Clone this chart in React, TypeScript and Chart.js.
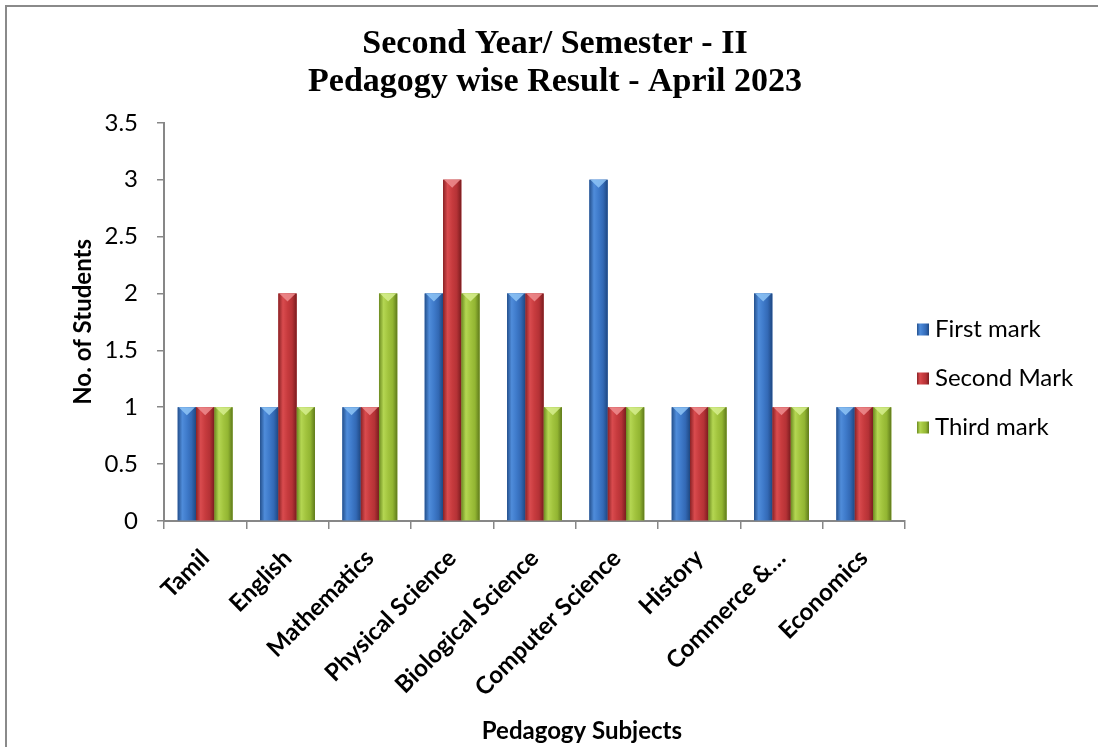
import React, { useEffect, useRef } from 'react';
import { Chart, registerables } from 'chart.js';

Chart.register(...registerables);

// ---- data ----
const categories = [
  'Tamil',
  'English',
  'Mathematics',
  'Physical Science',
  'Biological Science',
  'Computer Science',
  'History',
  'Commerce &…',
  'Economics',
];
const firstMark = [1, 1, 1, 2, 2, 3, 1, 2, 1];
const secondMark = [1, 2, 1, 3, 2, 1, 1, 1, 1];
const thirdMark = [1, 1, 2, 2, 1, 1, 1, 1, 1];
const seriesNames = ['First mark', 'Second Mark', 'Third mark'];
const yTickValues = [0, 0.5, 1, 1.5, 2, 2.5, 3, 3.5];
const titleLines = ['Second Year/ Semester - II', 'Pedagogy wise Result - April 2023'];
const xAxisTitle = 'Pedagogy Subjects';
const yAxisTitle = 'No. of Students';

// ---- styles ----
const palettes = [
  { base: '#3a72c0', stops: ['#24508c', '#4f8cda', '#3f7bcb', '#3369b5', '#1f4882'], top: '#8ec4f6' },
  { base: '#c0393c', stops: ['#8a2225', '#d94b4e', '#c73b3e', '#b53236', '#7a1c1f'], top: '#ee8d8f' },
  { base: '#9bbb3a', stops: ['#6b8a20', '#b4d652', '#a2c43e', '#92b532', '#5f7a1b'], top: '#d6ee8e' },
];
const axisColor = '#878787';
const sansFont = 'Lato';
const serifFont = 'Liberation Serif';

const framePlugin = {
  id: 'frame',
  beforeDraw(chart: any) {
    const { ctx, width, height } = chart;
    ctx.save();
    ctx.fillStyle = '#ffffff';
    ctx.fillRect(0, 0, width, height);
    ctx.strokeStyle = '#8a8a8a';
    ctx.lineWidth = 2;
    ctx.strokeRect(6, 6, width + 20, height + 20);
    ctx.restore();
  },
};

function gradientFor(ctx: CanvasRenderingContext2D, l: number, r: number, stops: string[]) {
  const g = ctx.createLinearGradient(l, 0, r, 0);
  stops.forEach((c, i) => g.addColorStop(i / (stops.length - 1), c));
  return g;
}

const barStylePlugin = {
  id: 'barStyle',
  afterDatasetsDraw(chart: any) {
    const ctx = chart.ctx as CanvasRenderingContext2D;
    chart.data.datasets.forEach((_ds: any, di: number) => {
      const meta = chart.getDatasetMeta(di);
      const pal = palettes[di];
      meta.data.forEach((el: any) => {
        const { x, y, base, width } = el.getProps(['x', 'y', 'base', 'width'], true);
        const l = x - width / 2;
        const r = x + width / 2;
        const h = base - y;
        if (h <= 0) return;
        ctx.save();
        ctx.fillStyle = gradientFor(ctx, l, r, pal.stops);
        ctx.fillRect(l, y, width, h);
        const bh = Math.min(8, h / 2);
        ctx.fillStyle = pal.top;
        ctx.globalAlpha = 0.85;
        ctx.beginPath();
        ctx.moveTo(l + 1, y);
        ctx.lineTo(r - 1, y);
        ctx.lineTo(x, y + bh);
        ctx.closePath();
        ctx.fill();
        ctx.restore();
      });
    });
  },
};

const legendPlugin = {
  id: 'sideLegend',
  afterDraw(chart: any) {
    const ctx = chart.ctx as CanvasRenderingContext2D;
    const x0 = chart.chartArea.right + 12;
    const cy0 = chart.height / 2 + 5;
    const gap = 49;
    const n = chart.data.datasets.length;
    ctx.save();
    ctx.font = `24px ${sansFont}`;
    ctx.textBaseline = 'middle';
    ctx.textAlign = 'left';
    chart.data.datasets.forEach((ds: any, i: number) => {
      const cy = cy0 + (i - (n - 1) / 2) * gap;
      const pal = palettes[i];
      ctx.fillStyle = gradientFor(ctx, x0, x0 + 12, pal.stops);
      ctx.fillRect(x0, cy - 6, 12, 12);
      ctx.fillStyle = '#000000';
      ctx.fillText(ds.label, x0 + 18, cy);
    });
    ctx.restore();
  },
};

const xTitlePlugin = {
  id: 'xTitle',
  afterDraw(chart: any) {
    const ctx = chart.ctx as CanvasRenderingContext2D;
    ctx.save();
    ctx.font = `bold 24px ${sansFont}`;
    ctx.fillStyle = '#000000';
    ctx.textAlign = 'center';
    ctx.textBaseline = 'middle';
    ctx.fillText(xAxisTitle, chart.width * 0.53, chart.height - 16);
    ctx.restore();
  },
};

export default function App() {
  const canvasRef = useRef<HTMLCanvasElement | null>(null);

  useEffect(() => {
    if (!canvasRef.current) return;
    const series = [firstMark, secondMark, thirdMark];
    const chart = new Chart(canvasRef.current, {
      type: 'bar',
      data: {
        labels: categories,
        datasets: series.map((values, i) => ({
          label: seriesNames[i],
          data: values,
          backgroundColor: palettes[i].base,
          borderWidth: 0,
          categoryPercentage: 0.667,
          barPercentage: 1,
        })),
      },
      plugins: [framePlugin, barStylePlugin, legendPlugin, xTitlePlugin],
      options: {
        responsive: false,
        maintainAspectRatio: false,
        animation: false,
        layout: { padding: { left: 12, right: 0, top: 0, bottom: 0 } },
        plugins: {
          legend: { display: false },
          tooltip: { enabled: false },
          title: {
            display: true,
            text: titleLines,
            color: '#000000',
            font: { family: serifFont, size: 34, weight: 'bold', lineHeight: 1.1 },
            padding: { top: 26, bottom: 22 },
          },
        },
        scales: {
          x: {
            afterFit(scale: any) {
              scale.height = 226;
            },
            ticks: {
              autoSkip: false,
              minRotation: 45,
              maxRotation: 45,
              padding: 15,
              color: '#000000',
              font: { family: sansFont, size: 24, weight: 'bold' },
            },
            grid: {
              drawOnChartArea: false,
              drawTicks: true,
              tickLength: 8,
              offset: true,
              color: axisColor,
              lineWidth: 1.5,
            },
            border: { color: axisColor, width: 2 },
          },
          y: {
            min: 0,
            max: 3.5,
            afterFit(scale: any) {
              scale.width = 152;
            },
            afterBuildTicks(scale: any) {
              scale.ticks = yTickValues.map((v) => ({ value: v }));
            },
            ticks: {
              padding: 19,
              color: '#000000',
              font: { family: sansFont, size: 24 },
              callback: (v: any) => `${v}`,
            },
            grid: {
              drawOnChartArea: false,
              drawTicks: true,
              tickLength: 7,
              color: axisColor,
              lineWidth: 1.5,
            },
            border: { color: axisColor, width: 2 },
            title: {
              display: true,
              text: yAxisTitle,
              color: '#000000',
              font: { family: sansFont, size: 24, weight: 'bold' },
              padding: { top: 57, bottom: 0 },
            },
          },
          legendSpace: {
            type: 'linear',
            position: 'right',
            display: true,
            afterFit(scale: any) {
              scale.width = 193;
            },
            ticks: { display: false },
            grid: { display: false, drawTicks: false },
            border: { display: false },
          },
        },
      },
    } as any);
    return () => chart.destroy();
  }, []);

  return (
    <div style={{ position: 'absolute', left: 0, top: 0, width: 1098, height: 747, overflow: 'hidden', background: '#fff' }}>
      <canvas ref={canvasRef} width={1098} height={747} style={{ display: 'block' }} />
    </div>
  );
}
